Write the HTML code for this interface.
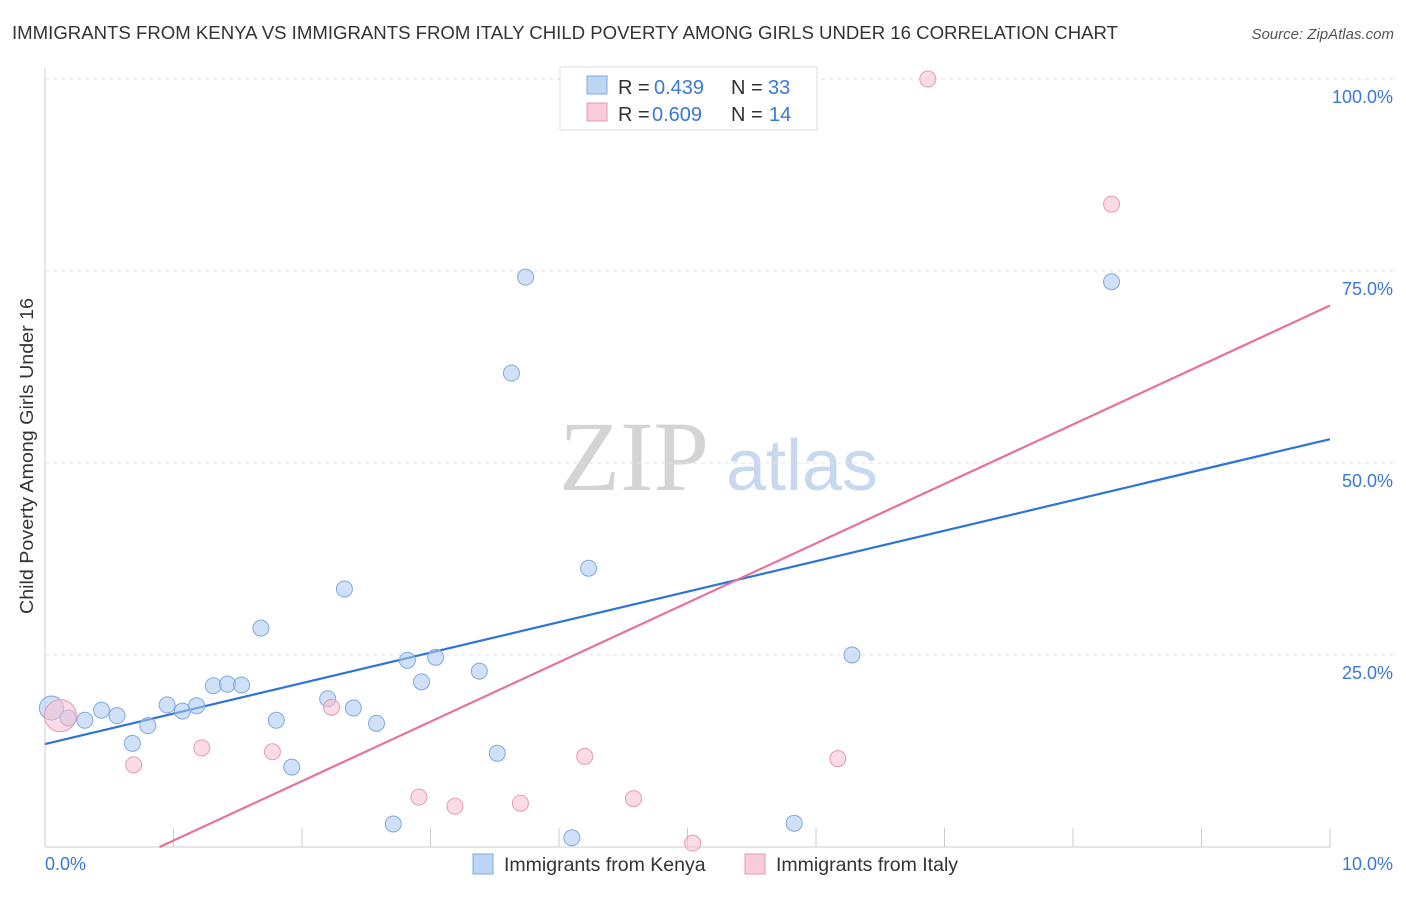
<!DOCTYPE html>
<html><head><meta charset="utf-8"><style>
body{margin:0;background:#fff;font-family:"Liberation Sans",sans-serif;}
</style></head><body>
<svg id="c" width="1406" height="892" font-family="Liberation Sans, sans-serif">
<text x="12" y="39" font-size="18" fill="#333" textLength="1106" lengthAdjust="spacingAndGlyphs">IMMIGRANTS FROM KENYA VS IMMIGRANTS FROM ITALY CHILD POVERTY AMONG GIRLS UNDER 16 CORRELATION CHART</text>
<text x="1394" y="39" font-size="15" fill="#555" font-style="italic" text-anchor="end">Source: ZipAtlas.com</text>
<text x="33" y="456" font-size="18" fill="#333" text-anchor="middle" textLength="316" lengthAdjust="spacingAndGlyphs" transform="rotate(-90 33 456)">Child Poverty Among Girls Under 16</text>
<g>
<text x="634" y="490" font-size="100" fill="#d4d4d4" style="font-family:'Liberation Serif',serif" text-anchor="middle">ZIP</text>
<text x="802" y="490" font-size="72" fill="#c8d8ef" text-anchor="middle">atlas</text></g>
<g id="grid"></g><g id="trend"></g><g id="pts"></g>
<g>
<rect x="560" y="67" width="257" height="63" fill="#fff" stroke="#ddd"/>
<rect x="587" y="76" width="20" height="18" fill="#bcd5f5" stroke="#7fa9e0"/>
<text x="618" y="94" font-size="20" fill="#333">R =</text>
<text x="654" y="94" font-size="20" fill="#3a78d8">0.439</text>
<text x="731" y="94" font-size="20" fill="#333">N =</text>
<text x="768" y="94" font-size="20" fill="#3a78d8">33</text>
<rect x="587" y="103" width="20" height="18" fill="#f9ccd9" stroke="#e89ab3"/>
<text x="618" y="121" font-size="20" fill="#333">R =</text>
<text x="652" y="121" font-size="20" fill="#3a78d8">0.609</text>
<text x="731" y="121" font-size="20" fill="#333">N =</text>
<text x="769" y="121" font-size="20" fill="#3a78d8">14</text></g>
<g>
<rect x="473" y="854" width="20" height="20" fill="#bcd5f5" stroke="#7fa9e0"/>
<text x="504" y="871" font-size="19.5" fill="#333">Immigrants from Kenya</text>
<rect x="745" y="854" width="20" height="20" fill="#f9ccd9" stroke="#e89ab3"/>
<text x="776" y="871" font-size="19.5" fill="#333">Immigrants from Italy</text></g>
</svg>
<script>
const kenyaX=[0.05,0.18,0.31,0.44,0.56,0.68,0.80,0.95,1.07,1.18,1.31,1.42,1.53,1.68,1.80,1.92,2.20,2.33,2.40,2.58,2.71,2.82,2.93,3.04,3.38,3.52,3.63,3.74,4.10,4.23,5.83,6.28,8.30];
const kenyaY=[18.1,16.8,16.5,17.8,17.1,13.5,15.8,18.5,17.7,18.4,21.0,21.2,21.1,28.5,16.5,10.4,19.3,33.6,18.1,16.1,3.0,24.3,21.5,24.7,22.9,12.2,61.7,74.2,1.2,36.3,3.1,25.0,73.6];
const italyX=[0.12,0.69,1.22,1.77,2.23,2.91,3.19,3.70,4.20,4.58,5.04,6.17,6.87,8.30];
const italyY=[17.1,10.7,12.9,12.4,18.2,6.5,5.3,5.7,11.8,6.3,0.5,11.5,100,83.7];
const kenyaTrend=[13.4,3.97];
const italyTrend=[-6.9,7.74];
const yTicks=[25,50,75,100];
const yTickLabels=["25.0%","50.0%","75.0%","100.0%"];
const xTickLabels=["0.0%","10.0%"];
const NS="http://www.w3.org/2000/svg";
const sx=v=>45+v*128.5, sy=v=>847-v*7.68;
function mk(t,a,p){const e=document.createElementNS(NS,t);for(const k in a)e.setAttribute(k,a[k]);p.appendChild(e);return e;}
const g=document.getElementById('grid');
mk('line',{x1:45,y1:68,x2:45,y2:847,stroke:'#ccc'},g);
mk('line',{x1:45,y1:847,x2:1330,y2:847,stroke:'#ccc'},g);
for(let i=1;i<=10;i++)mk('line',{x1:sx(i),y1:828,x2:sx(i),y2:847,stroke:'#ccc'},g);
yTicks.forEach((v,i)=>{
 const l=mk('line',{x1:45,y1:sy(v),x2:1394,y2:sy(v),stroke:'#e3e3e3','stroke-dasharray':'4,4'},g);
 
 
 const t=mk('text',{x:1393,y:sy(v)+24,'font-size':18,fill:'#3a78d8','text-anchor':'end'},g);t.textContent=yTickLabels[i];
 
 
});
xTickLabels.forEach((s,i)=>{
 const t=mk('text',{x:i?1393:45,y:870,'font-size':18,fill:'#3a78d8','text-anchor':i?'end':'start'},g);t.textContent=s;
 
 
});
const tr=document.getElementById('trend');
function line(c,col,name){
 let x0=0; if(c[0]<0)x0=-c[0]/c[1];
 const l=mk('line',{x1:sx(x0),y1:sy(c[0]+c[1]*x0),x2:sx(10),y2:sy(c[0]+c[1]*10),stroke:col,'stroke-width':2.2},tr);
 
 
}
line(kenyaTrend,'#2d74d9','kenya-trend-line');
line(italyTrend,'#e8709a','italy-trend-line');
const p=document.getElementById('pts');
kenyaX.forEach((x,i)=>{
 const c=mk('circle',{cx:sx(x),cy:sy(kenyaY[i]),r:i==0?12:8,fill:'rgba(170,200,240,0.55)',stroke:'#7fa9e0','stroke-width':1},p);
 
 
});
italyX.forEach((x,i)=>{
 const c=mk('circle',{cx:sx(x),cy:sy(italyY[i]),r:i==0?16:8,fill:'rgba(248,190,208,0.55)',stroke:'#e89ab3','stroke-width':1},p);
 
 
});
</script>
</body></html>
